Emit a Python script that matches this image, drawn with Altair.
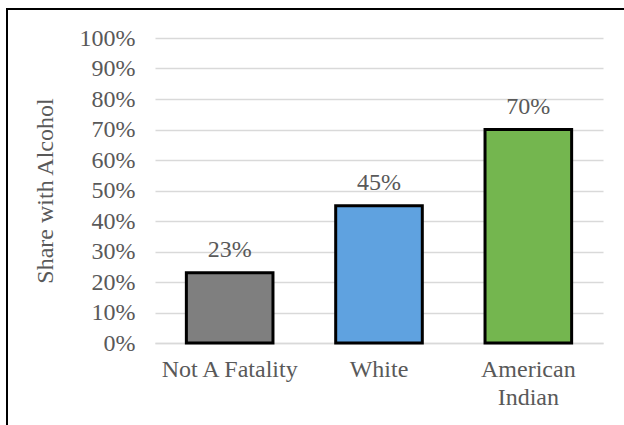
import altair as alt
import pandas as pd

categories = ["Not A Fatality", "White", "American Indian"]
shares = [0.23, 0.45, 0.70]
colors = ["#7f7f7f", "#5fa2e0", "#74b64f"]
label_texts = ["23%", "45%", "70%"]
y_ticks = [0, 0.1, 0.2, 0.3, 0.4, 0.5, 0.6, 0.7, 0.8, 0.9, 1.0]

df = pd.DataFrame({"cat": categories, "share": shares, "color": colors, "lbl": label_texts})

FONT = "Liberation Serif, Times New Roman, serif"
GRAY = "#595959"
FS = 24

x = alt.X("cat:N", sort=categories, title=None,
          scale=alt.Scale(paddingInner=0.42, paddingOuter=0.21),
          axis=alt.Axis(labelAngle=0, ticks=False, domain=True, domainColor="#d9d9d9",
                        domainWidth=1.5, labelFont=FONT, labelFontSize=FS, labelColor=GRAY,
                        labelPadding=14, labelLineHeight=28, labelLimit=300, labelOverlap=False,
                        labelExpr="datum.label == 'American Indian' ? ['American', 'Indian'] : datum.label"))
y = alt.Y("share:Q", title="Share with Alcohol",
          scale=alt.Scale(domain=[0, 1], nice=False),
          axis=alt.Axis(values=y_ticks, format=".0%", ticks=False, domain=False,
                        grid=True, gridColor="#d9d9d9", gridWidth=1.5, labelOverlap=False,
                        labelFont=FONT, labelFontSize=FS, labelColor=GRAY, labelPadding=20,
                        titleFont=FONT, titleFontSize=FS, titleColor=GRAY, titleFontWeight="normal",
                        titlePadding=22))

bars = alt.Chart(df).mark_bar(stroke="black", strokeWidth=3).encode(
    x=x, y=y, fill=alt.Fill("color:N", scale=None)
)
texts = alt.Chart(df).mark_text(dy=-16, baseline="alphabetic", font=FONT, fontSize=FS, color=GRAY).encode(
    x=x, y=y, text="lbl:N"
)

left_border = alt.Chart(df).mark_rule(color="black", strokeWidth=2).encode(
    x=alt.value(-148), y=alt.value(-30), y2=alt.value(400)
)
top_border = alt.Chart(df).mark_rule(color="black", strokeWidth=2).encode(
    x=alt.value(-149), x2=alt.value(480), y=alt.value(-29)
)

chart = alt.layer(bars, texts, left_border, top_border).properties(
    width=448, height=305,
    autosize=alt.AutoSizeParams(type="none"),
    padding={"left": 155, "top": 38, "right": 21, "bottom": 82},
    background="white"
).configure_view(stroke=None).configure_axis(labelOverlap=False)

chart.save("out.html", embed_options={"renderer": "svg", "actions": False})
